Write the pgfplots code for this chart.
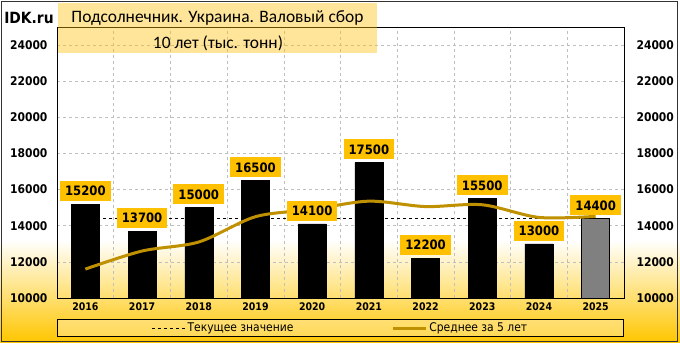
\documentclass[border=0pt]{standalone}
\usepackage{fontspec}
\setmainfont{Carlito}
\newfontfamily\tickfont{DejaVu Sans Condensed}
\usepackage{pgfplots}
\pgfplotsset{compat=1.18}
\definecolor{lblyel}{HTML}{FFC000}
\definecolor{goldl}{HTML}{BF9000}
\definecolor{bgyel}{HTML}{FFC600}
\definecolor{bargray}{HTML}{808080}
\definecolor{gridgray}{HTML}{BFBFBF}
\begin{document}
\begin{tikzpicture}[x=1bp,y=1bp]
\path[use as bounding box] (0,0) rectangle (680,342);
\fill[white] (0,0) rectangle (680,342);
\shade[top color=white, bottom color=bgyel] (0,0) rectangle (680,102);
\begin{axis}[at={(57bp,44bp)}, anchor=south west, width=567bp, height=271bp, scale only axis,
  xmin=-0.5, xmax=9.5, ymin=10000, ymax=25000,
  xtick={0,1,2,3,4,5,6,7,8,9},
  xticklabels={2016,2017,2018,2019,2020,2021,2022,2023,2024,2025},
  minor xtick={0.5,1.5,2.5,3.5,4.5,5.5,6.5,7.5,8.5},
  xminorgrids, ymajorgrids,
  ytick={10000,12000,14000,16000,18000,20000,22000,24000},
  major grid style={gridgray, line width=0.6bp, dash pattern=on 3bp off 3bp},
  minor grid style={gridgray, line width=0.6bp, dash pattern=on 3bp off 3bp},
  major tick length=0pt, minor tick length=0pt,
  axis line style={black, line width=0.8bp},
  scaled y ticks=false,
  yticklabel style={font=\tickfont\bfseries\fontsize{12}{12}\selectfont, /pgf/number format/assume math mode=true, /pgf/number format/1000 sep={}, xshift=-6bp},
  xticklabel style={font=\tickfont\bfseries\fontsize{10.5}{10.5}\selectfont, yshift=-1bp},
  legend style={at={(axis description cs:0.5,-0.0775)}, anchor=north, legend columns=2,
    draw=black, line width=0.8bp, fill=white, fill opacity=0.3, text opacity=1, draw opacity=1,
    font=\tickfont\fontsize{12}{12}\selectfont, inner xsep=94bp, inner ysep=1.5bp,
    /tikz/every even column/.append style={column sep=96bp}},
  legend image code/.code={\draw[#1] (0bp,0bp) -- (33bp,0bp);},
]
\addplot[black, line width=0.8bp, dash pattern=on 3bp off 3bp] coordinates {(0,14400) (9,14400)};
\addlegendentry{Текущее значение}
\addplot[ybar, bar width=28bp, bar shift=0pt, fill=black, draw=black, forget plot] coordinates {
(0,15200) (1,13700) (2,15000) (3,16500) (4,14100) (5,17500) (6,12200) (7,15500) (8,13000)};
\addplot[ybar, bar width=28bp, bar shift=0pt, fill=bargray, draw=black, line width=0.8bp, forget plot] coordinates {(9,14400)};
\addplot[goldl, line width=3bp, smooth, tension=0.5] coordinates {
(0,11600) (1,12600) (2,13100) (3,14500) (4,14900) (5,15360) (6,15060) (7,15160) (8,14460) (9,14520)};
\addlegendentry{Среднее за 5 лет}
\addplot[ybar, bar width=28bp, bar shift=0pt, draw=none, fill=none, forget plot,
  nodes near coords={\pgfmathprintnumber[assume math mode=true,1000 sep={},fixed,precision=0]{\pgfplotspointmeta}},
  every node near coord/.append style={font=\tickfont\bfseries\fontsize{13}{13}\selectfont, fill=lblyel, inner xsep=5bp, inner ysep=3bp, minimum height=20bp, anchor=south, yshift=3bp}]
coordinates {(0,15200) (1,13700) (2,15000) (3,16500) (4,14100) (5,17500) (6,12200) (7,15500) (8,13000) (9,14400)};
\end{axis}
\begin{axis}[at={(57bp,44bp)}, anchor=south west, width=567bp, height=271bp, scale only axis,
  xmin=-0.5, xmax=9.5, ymin=10000, ymax=25000,
  axis x line=none, axis y line*=right, axis line style={draw=none},
  ytick={10000,12000,14000,16000,18000,20000,22000,24000},
  major tick length=0pt, scaled y ticks=false,
  yticklabel style={font=\tickfont\bfseries\fontsize{12}{12}\selectfont, /pgf/number format/assume math mode=true, /pgf/number format/1000 sep={}, xshift=9bp},
]
\addplot[draw=none] coordinates {(0,10000)};
\end{axis}
\fill[lblyel, fill opacity=0.4] (58,289) rectangle (377,339);
\node[font=\fontsize{17.5}{17.5}\selectfont] at (217.5,324) {Подсолнечник. Украина. Валовый сбор};
\node[font=\fontsize{17.5}{17.5}\selectfont] at (218,299) {10 лет (тыс. тонн)};
\node[font=\tickfont\bfseries\fontsize{15.5}{15.5}\selectfont] at (29,324) {IDK.ru};
\draw[black!80, line width=0.8bp] (1,1) rectangle (677,341);
\end{tikzpicture}
\end{document}
